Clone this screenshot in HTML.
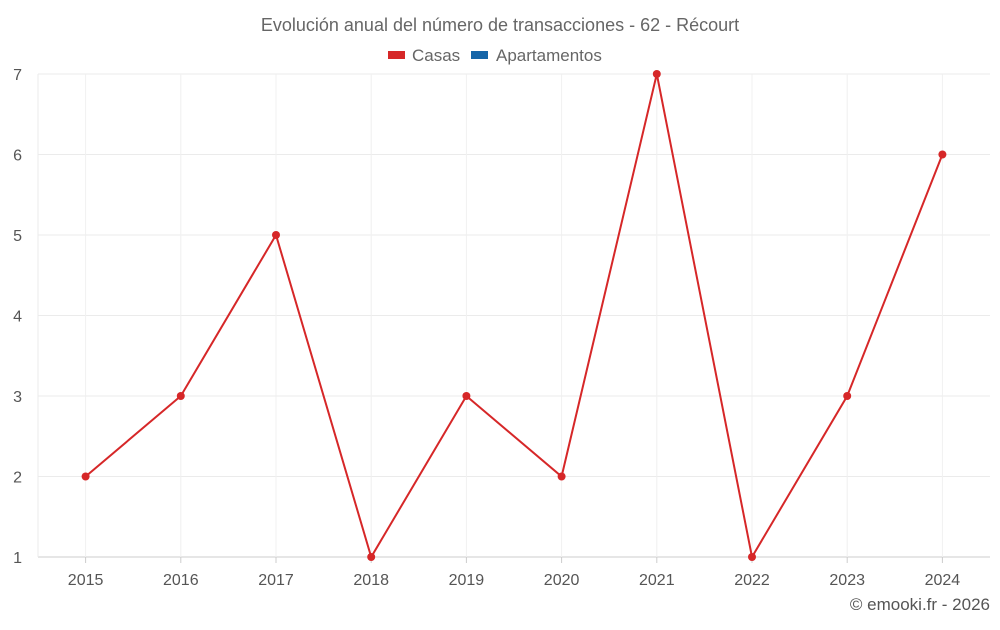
<!DOCTYPE html>
<html><head><meta charset="utf-8"><style>
body{margin:0;background:#fff;font-family:"Liberation Sans",sans-serif;}
svg text{font-family:"Liberation Sans",sans-serif;}
</style></head><body>
<svg id="chart" width="1000" height="625" xmlns="http://www.w3.org/2000/svg">
<text x="500" y="31" text-anchor="middle" font-size="18" fill="#666">Evolución anual del número de transacciones - 62 - Récourt</text>
<g>
<g><rect x="388" y="51" width="17" height="8" fill="#d62728"/><text x="412" y="61" font-size="17" fill="#666">Casas</text></g>
<g><rect x="471" y="51" width="17" height="8" fill="#1565a8"/><text x="496" y="61" font-size="17" fill="#666">Apartamentos</text></g>
</g>
<g id="grid"></g><g id="axes"></g><g id="series"></g>
<text x="990" y="610" text-anchor="end" font-size="17" fill="#555">© emooki.fr - 2026</text>
</svg>
<script>
const categories=["2015","2016","2017","2018","2019","2020","2021","2022","2023","2024"];
const casas=[2,3,5,1,3,2,7,1,3,6];
const yTicks=[1,2,3,4,5,6,7];
const NS="http://www.w3.org/2000/svg";
const L=38,R=990,T=74,B=557,yMin=1,yMax=7;
const bw=(R-L)/categories.length;
const x=i=>L+bw*(i+0.5);
const y=v=>B-(v-yMin)/(yMax-yMin)*(B-T);
function mk(t,a,p){const e=document.createElementNS(NS,t);for(const k in a)e.setAttribute(k,a[k]);p.appendChild(e);return e;}
const grid=document.getElementById('grid'),axes=document.getElementById('axes'),series=document.getElementById('series');
yTicks.forEach(v=>{
const g=mk('line',{x1:L,x2:R,y1:y(v),y2:y(v),stroke:v===yMin?'#ccc':'#ebebeb','stroke-width':1},grid);


const t=mk('text',{x:22,y:y(v)+6,'text-anchor':'end','font-size':16,fill:'#555'},axes);t.textContent=v;


});
mk('line',{x1:L,x2:L,y1:T,y2:B,stroke:'#ebebeb'},grid);
categories.forEach((c,i)=>{
const g=mk('line',{x1:x(i),x2:x(i),y1:T,y2:B,stroke:'#f0f0f0'},grid);


const tk=mk('line',{x1:x(i),x2:x(i),y1:B,y2:B+6,stroke:'#ccc'},axes);


const t=mk('text',{x:x(i),y:585,'text-anchor':'middle','font-size':16,fill:'#555'},axes);t.textContent=c;


});
const line=mk('polyline',{points:casas.map((v,i)=>x(i)+','+y(v)).join(' '),fill:'none',stroke:'#d62728','stroke-width':2},series);


casas.forEach((v,i)=>{
const p=mk('circle',{cx:x(i),cy:y(v),r:4,fill:'#d62728'},series);


});
</script>
</body></html>
